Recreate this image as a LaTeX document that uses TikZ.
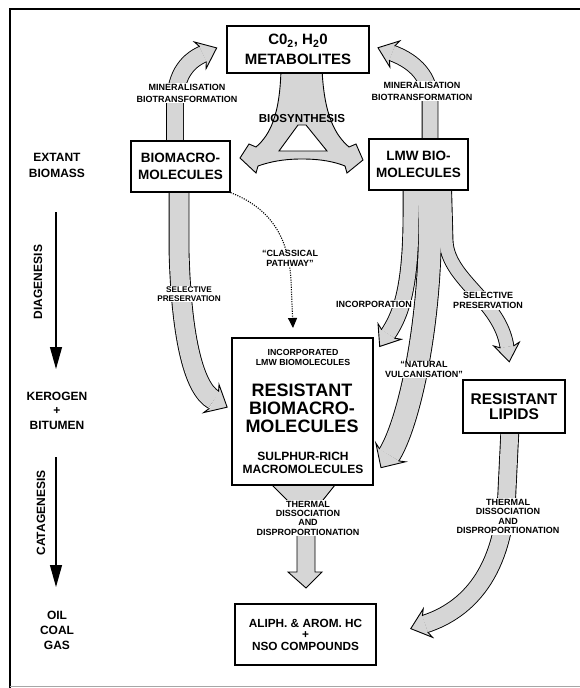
\documentclass[tikz,border=0pt]{standalone}
\usepackage{fontspec}
\setmainfont{Liberation Sans}
\usetikzlibrary{arrows.meta, calc, backgrounds, decorations.markings}
\definecolor{bandgray}{RGB}{214,214,214}

\tikzset{
  box/.style={draw, fill=white, line width=1.3pt, inner sep=0pt, align=center},
  lbl/.style={fill=white, inner sep=1.2pt, align=center, font=\bfseries\fontsize{9}{9.3}\selectfont},
  stage/.style={align=center, font=\bfseries\fontsize{12}{15}\selectfont},
  stagearrow/.style={line width=1.2pt, -{Triangle[length=22pt, width=12pt]}},
  dotline/.style={line width=1.1pt, dash pattern=on 1.1pt off 1.3pt, -{Triangle[length=10pt, width=9pt]}},
  bandedge/.style={line width=#1+1.8pt, draw=black},
  band/.style={line width=#1, draw=bandgray, postaction={decorate, decoration={markings,
    mark=at position 0.9999 with {\filldraw[fill=bandgray, draw=black, line width=0.9pt, line join=miter]
      (0,#1/2) -- (-3,#1/2+6.5) -- (15,0) -- (-3,-#1/2-6.5) -- (0,-#1/2);}}}},
  solidband/.style={fill=bandgray, draw=black, line width=0.9pt, line join=miter}
}

\begin{document}
\begin{tikzpicture}[x=1pt, y=-1pt]
  \useasboundingbox (0,0) rectangle (580,688);
  \draw[line width=2.6pt] (10,688) -- (10,9) -- (580,9);
  \draw[black!35, line width=1pt] (10,686) -- (580,686);

  % boxes
  \node[box, minimum width=142, minimum height=47, font=\bfseries\fontsize{15}{20}\selectfont] (co2) at (298,49.5) {C0\textsubscript{2}, H\textsubscript{2}0\\METABOLITES};
  \node[box, minimum width=99, minimum height=51, font=\bfseries\fontsize{13.5}{16.5}\selectfont] (bmacro) at (180.5,166.5) {BIOMACRO-\\MOLECULES};
  \node[box, minimum width=99, minimum height=51, font=\bfseries\fontsize{13.5}{16.5}\selectfont] (lmw) at (418.5,164.5) {LMW BIO-\\MOLECULES};
  \node[box, minimum width=141, minimum height=147] (resist) at (302.5,411.5) {};
  \node[align=center, font=\bfseries\fontsize{8.8}{9.3}\selectfont] (resinc) at (303,357.5) {INCORPORATED\\LMW BIOMOLECULES};
  \node[align=center, font=\bfseries\fontsize{18}{18}\selectfont] (resmain) at (302,408) {RESISTANT\\BIOMACRO-\\MOLECULES};
  \node[align=center, font=\bfseries\fontsize{12}{12.5}\selectfont] (ressul) at (303,463) {SULPHUR-RICH\\MACROMOLECULES};
  \node[box, minimum width=102, minimum height=53, font=\bfseries\fontsize{15.5}{15.5}\selectfont] (lipids) at (514,406.5) {RESISTANT\\LIPIDS};
  \node[box, minimum width=141, minimum height=61, font=\bfseries\fontsize{11.8}{11.5}\selectfont] (hc) at (305.5,634.5) {ALIPH. \& AROM. HC\\+\\NSO COMPOUNDS};

  % left column
  \node[stage, font=\bfseries\fontsize{12}{16}\selectfont] (extant) at (57,165) {EXTANT\\BIOMASS};
  \node[stage, font=\bfseries\fontsize{12}{14.5}\selectfont] (kerogen) at (57,410.5) {KEROGEN\\+\\BITUMEN};
  \node[stage] (oil) at (57,630) {OIL\\COAL\\GAS};
  \node[stage, rotate=90] (diag) at (38,282) {DIAGENESIS};
  \node[stage, rotate=90] (catag) at (41,513) {CATAGENESIS};
  \coordinate (diagtop) at (56,212);
  \coordinate (diagbot) at (56,369);
  \coordinate (catagtop) at (56,457);
  \coordinate (catagbot) at (56,587);
  \draw[stagearrow] (diagtop) -- (diagbot);
  \draw[stagearrow] (catagtop) -- (catagbot);

  % broad grey arrows behind the boxes
  \begin{scope}[on background layer]
    \coordinate (minLend) at (203,54);
    \coordinate (minRend) at (392,53);
    \coordinate (selLend) at (214,400);
    \coordinate (incend) at (388,334);
    \coordinate (vulend) at (389,455);
    \coordinate (selRend) at (507,347);
    \coordinate (lipend) at (425,624);
    \def\minLpath{($(bmacro.north)+(-5.5,5)$) -- (175,105) .. controls (175,78) and (185,62) .. (minLend)}
    \def\minRpath{($(lmw.north)+(11.5,5)$) -- (430,100) .. controls (430,78) and (416,62) .. (minRend)}
    \def\selLpath{($(bmacro.south)+(-1.5,-5)$) -- (179,250) .. controls (181,330) and (192,388) .. (selLend)}
    \def\incpath{($(lmw.south)+(-7.5,-5)$) -- (411,215) .. controls (411,290) and (400,316) .. (incend)}
    \def\vulpath{($(lmw.south)+(10,-5)$) -- (430,225) .. controls (430,330) and (408,425) .. (vulend)}
    \def\selRpath{($(lmw.south)+(26,-5)$) -- (446,240) .. controls (447,280) and (500,300) .. (selRend)}
    \def\lippath{($(lipids.south)+(-4,-5)$) -- (507,490) .. controls (504,572) and (468,610) .. (lipend)}
    % dark edges first, grey bodies on top
    \draw[bandedge=16] \minLpath;
    \draw[bandedge=15] \minRpath;
    \draw[bandedge=19] \selLpath;
    \draw[bandedge=15] \incpath;
    \draw[bandedge=22] \vulpath;
    \draw[bandedge=13] \selRpath;
    \draw[bandedge=17] \lippath;
    \draw[band=16] \minLpath;
    \draw[band=15] \minRpath;
    \draw[band=19] \selLpath;
    \draw[band=15] \incpath;
    \draw[band=22] \vulpath;
    \draw[band=13] \selRpath;
    \draw[band=17] \lippath;
    % biosynthesis fork
    \filldraw[solidband] ($(co2.south)+(-17,-5)$) .. controls (280,115) and (270,135) .. (256,147)
      -- (249,144) -- (240,158) -- (256,173) -- (258,166)
      .. controls (275,160) and (290,159) .. (302,159) .. controls (314,159) and (330,160) .. (345,166)
      -- (347,173) -- (363,160) -- (356,144) -- (349,147)
      .. controls (335,135) and (324,115) .. ($(co2.south)+(24,-5)$) -- cycle;
    \filldraw[fill=white, draw=black, line width=0.9pt] (298,125) -- (279,151) -- (327,151) -- (306,125) -- cycle;
    % thermal funnel
    \filldraw[solidband] ($(resist.south)+(-30.5,-5)$) -- (272,485) -- (297,510) -- (297,572) -- (288,572)
      -- (306,588) -- (322,572) -- (315,572) -- (315,510) -- (335,485) -- ($(resist.south)+(32.5,-5)$) -- cycle;
  \end{scope}

  % classical pathway
  \coordinate (clsend) at (293,328);
  \draw[dotline] (bmacro.south east) .. controls (262,205) and (288,228) .. (291,280) -- (clsend);

  % labels
  \node[lbl, font=\bfseries\fontsize{9}{12}\selectfont] (minLlbl) at (187,93) {MINERALISATION\\BIOTRANSFORMATION};
  \node[lbl, font=\bfseries\fontsize{9}{12}\selectfont] (minRlbl) at (422,91) {MINERALISATION\\BIOTRANSFORMATION};
  \node[align=center, font=\bfseries\fontsize{11.6}{12}\selectfont] (bioslbl) at (302,119) {BIOSYNTHESIS};
  \node[lbl] (clslbl) at (290,258.5) {``CLASSICAL\\PATHWAY''};
  \node[lbl, font=\bfseries\fontsize{8.2}{8.6}\selectfont] (selLlbl) at (189,294) {SELECTIVE\\PRESERVATION};
  \node[lbl] (inclbl) at (374,304) {INCORPORATION};
  \node[lbl] (selRlbl) at (488,300.5) {SELECTIVE\\PRESERVATION};
  \node[lbl] (vullbl) at (424,369.5) {``NATURAL\\VULCANISATION''};
  \node[lbl] (thmLlbl) at (308,518) {THERMAL\\DISSOCIATION\\AND\\DISPROPORTIONATION};
  \node[lbl] (thmRlbl) at (508,516.5) {THERMAL\\DISSOCIATION\\AND\\DISPROPORTIONATION};
\end{tikzpicture}
\end{document}
